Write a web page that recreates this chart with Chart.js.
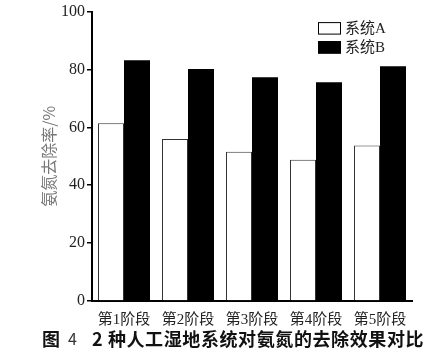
<!DOCTYPE html>
<html><head><meta charset="utf-8">
<script src="https://cdn.jsdelivr.net/npm/chart.js@4"></script>
<style>html,body{margin:0;padding:0;background:#fff}#wrap{width:447px;height:363px}</style>
</head><body><div id="wrap"><canvas id="c" width="447" height="363"></canvas></div>
<script>
const categories = ['第1阶段','第2阶段','第3阶段','第4阶段','第5阶段'];
const seriesA = [61.4, 56.0, 51.6, 48.8, 53.7];
const seriesB = [83.2, 80.2, 77.3, 75.6, 81.1];
const seriesNames = ['系统A','系统B'];
const yTicks = [0,20,40,60,80,100];
const yTitle = '氨氮去除率/%';
const captionParts = [
  {text:'图', bold:true},
  {text:'4', bold:false},
  {text:'2 种人工湿地系统对氨氮的去除效果对比', bold:true}
];

const serif = "'Liberation Serif','Noto Sans CJK SC',serif";
const cjkSans = "'Noto Sans CJK SC',sans-serif";

const legendPlugin = {
  id:'customLegend',
  afterDraw(chart){
    const ctx = chart.ctx, ca = chart.chartArea;
    const x0 = ca.right - 94, y0 = ca.top + 10.5;
    ctx.save();
    chart.data.datasets.forEach((ds,i)=>{
      const y = y0 + i*19;
      ctx.fillStyle = ds.backgroundColor;
      ctx.fillRect(x0, y, 23, 12.5);
      ctx.strokeStyle = '#000'; ctx.lineWidth = 1;
      ctx.strokeRect(x0+0.5, y+0.5, 22, 11.5);
      ctx.fillStyle = '#222';
      ctx.font = "15px " + serif;
      ctx.textBaseline = 'middle';
      ctx.fillText(ds.label, x0 + 27, y + 6.5);
    });
    ctx.restore();
  }
};

const captionPlugin = {
  id:'caption',
  afterDraw(chart){
    const ctx = chart.ctx;
    const y = chart.height - 24;
    const xs = [42, 68, 92];
    ctx.save();
    ctx.textBaseline = 'middle';
    captionParts.forEach((p,i)=>{
      ctx.font = (p.bold ? 'bold 18px ' : '16px ') + cjkSans;
      ctx.fillStyle = p.bold ? '#111' : '#333';
      ctx.letterSpacing = p.bold ? '0.6px' : '0px';
      ctx.fillText(p.text, xs[i], y);
    });
    ctx.restore();
  }
};

new Chart(document.getElementById('c'), {
  type:'bar',
  data:{
    labels: categories,
    datasets:[
      {label: seriesNames[0], data: seriesA, backgroundColor:'#ffffff', borderColor:'#333', borderWidth:1, borderSkipped:'bottom'},
      {label: seriesNames[1], data: seriesB, backgroundColor:'#000000', borderColor:'#000', borderWidth:0}
    ]
  },
  options:{
    responsive:false, animation:false,
    layout:{padding:{left:39, right:35, top:10, bottom:36}},
    datasets:{bar:{categoryPercentage:0.8125, barPercentage:1.0}},
    plugins:{ legend:{display:false}, tooltip:{enabled:false} },
    scales:{
      x:{
        grid:{display:false},
        border:{color:'#000', width:2},
        ticks:{color:'#222', font:{family:serif, size:15}, padding:2, maxRotation:0, autoSkip:false},
        afterFit(s){ s.height = 26; }
      },
      y:{
        min:0, max:100,
        afterBuildTicks(s){ s.ticks = yTicks.map(v=>({value:v})); },
        grid:{drawOnChartArea:false, drawTicks:true, tickLength:5, color:'#000', lineWidth:1.5},
        border:{color:'#000', width:2},
        ticks:{color:'#222', font:{family:serif, size:16}, padding:2},
        title:{display:true, text:yTitle, color:'#777', font:{family:cjkSans, size:16}, padding:{top:0,bottom:0}},
        afterFit(s){ s.width = 53; }
      }
    }
  },
  plugins:[legendPlugin, captionPlugin]
});
</script>
</body></html>
